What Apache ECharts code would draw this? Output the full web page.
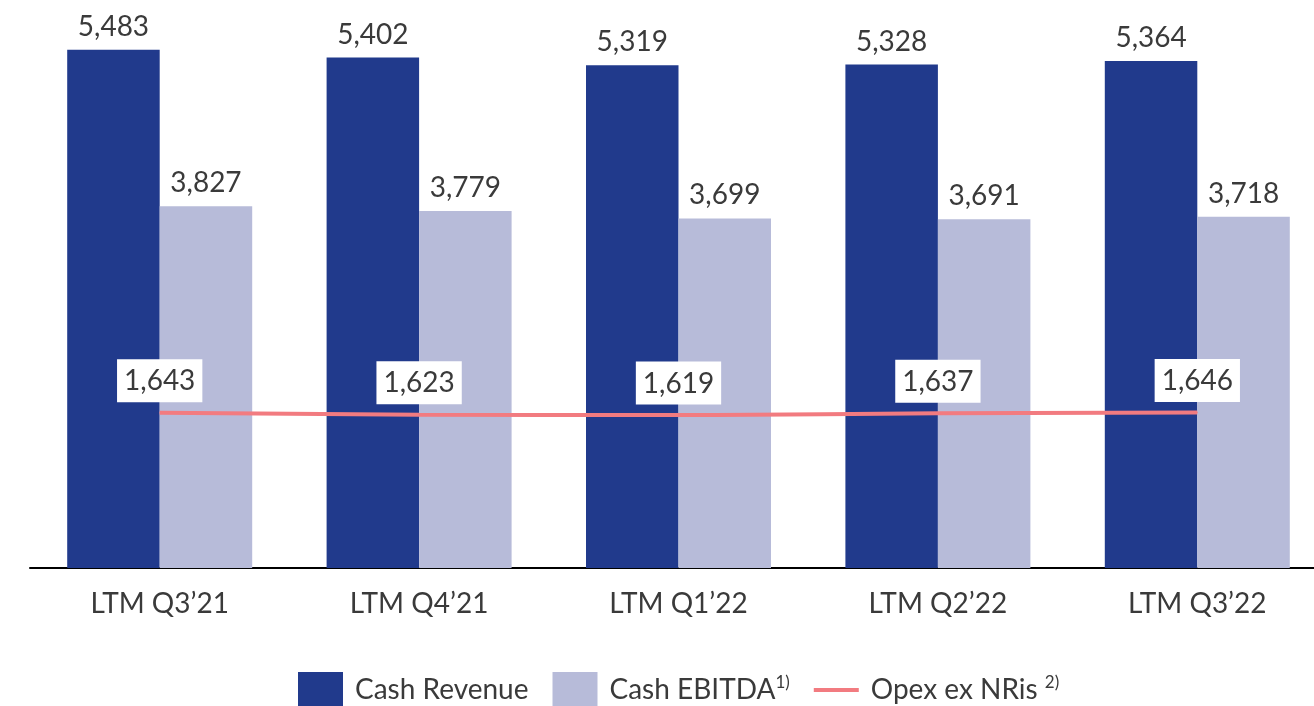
<!DOCTYPE html>
<html>
<head>
<meta charset="utf-8">
<script src="https://cdn.jsdelivr.net/npm/echarts@6/dist/echarts.min.js"></script>
<style>
  html, body { margin: 0; padding: 0; background: #fff; }
  #chart { width: 1314px; height: 706px; }
</style>
</head>
<body>
<div id="chart"></div>
<script>
var categories = ['LTM Q3’21', 'LTM Q4’21', 'LTM Q1’22', 'LTM Q2’22', 'LTM Q3’22'];
var cashRevenue = [5483, 5402, 5319, 5328, 5364];
var cashEbitda = [3827, 3779, 3699, 3691, 3718];
var opexExNris = [1643, 1623, 1619, 1637, 1646];

var fmt = function (p) {
    return p.value.toLocaleString('en-US');
};

var option = {
    backgroundColor: '#FFFFFF',
    textStyle: { fontFamily: 'Lato' },
    animation: false,
    grid: {
        left: 30,
        top: 1,
        width: 1297,
        height: 567,
        outerBoundsMode: 'none',
        containLabel: false
    },
    legend: {
        left: 293,
        top: 667,
        itemWidth: 45,
        itemHeight: 36,
        itemGap: 24,
        textStyle: {
            fontFamily: 'Lato',
            fontSize: 28,
            color: '#3a3a3a',
            padding: [0, 0, 0, 7],
            rich: {
                t: { fontFamily: 'Lato', fontSize: 28, color: '#3a3a3a' },
                s: { fontFamily: 'Lato', fontSize: 17, color: '#3a3a3a', padding: [0, 0, 14, 0] }
            }
        },
        data: [
            { name: 'Cash Revenue', icon: 'rect' },
            { name: 'Cash EBITDA', icon: 'rect' },
            { name: 'Opex ex NRis', icon: 'path://M0,0L45,0L45,4L0,4Z' }
        ],
        formatter: function (name) {
            if (name === 'Cash EBITDA') return '{t|Cash EBITDA}{s|1)}';
            if (name === 'Opex ex NRis') return '{t|Opex ex NRis }{s|2)}';
            return '{t|' + name + '}';
        }
    },
    xAxis: {
        type: 'category',
        data: categories,
        axisLine: { lineStyle: { color: '#000', width: 2 } },
        axisTick: { show: false },
        axisLabel: {
            fontFamily: 'Lato',
            fontSize: 28,
            color: '#3a3a3a',
            margin: 22
        }
    },
    yAxis: {
        type: 'value',
        min: 0,
        max: 6000,
        show: false,
        splitLine: { show: false }
    },
    series: [{
        name: 'Cash Revenue',
        type: 'bar',
        data: cashRevenue,
        barWidth: 92.5,
        barGap: '0%',
        itemStyle: { color: '#213A8C' },
        label: {
            show: true,
            position: 'top',
            distance: 9,
            formatter: fmt,
            fontFamily: 'Lato',
            fontSize: 28,
            color: '#3a3a3a'
        }
    }, {
        name: 'Cash EBITDA',
        type: 'bar',
        data: cashEbitda,
        barWidth: 92.5,
        barGap: '0%',
        itemStyle: { color: '#B7BBD9' },
        label: {
            show: true,
            position: 'top',
            distance: 9,
            formatter: fmt,
            fontFamily: 'Lato',
            fontSize: 28,
            color: '#3a3a3a'
        }
    }, {
        name: 'Opex ex NRis',
        type: 'line',
        data: opexExNris,
        smooth: true,
        symbol: 'circle',
        symbolSize: 1,
        itemStyle: { color: '#F27B80' },
        lineStyle: { color: '#F27B80', width: 4 },
        label: {
            show: true,
            position: 'top',
            distance: 10,
            formatter: fmt,
            fontFamily: 'Lato',
            fontSize: 28,
            color: '#3a3a3a',
            backgroundColor: '#FFFFFF',
            padding: [8, 7, 7, 7]
        },
        z: 5
    }]
};

var myChart = echarts.init(document.getElementById('chart'));
myChart.setOption(option);
</script>
</body>
</html>
